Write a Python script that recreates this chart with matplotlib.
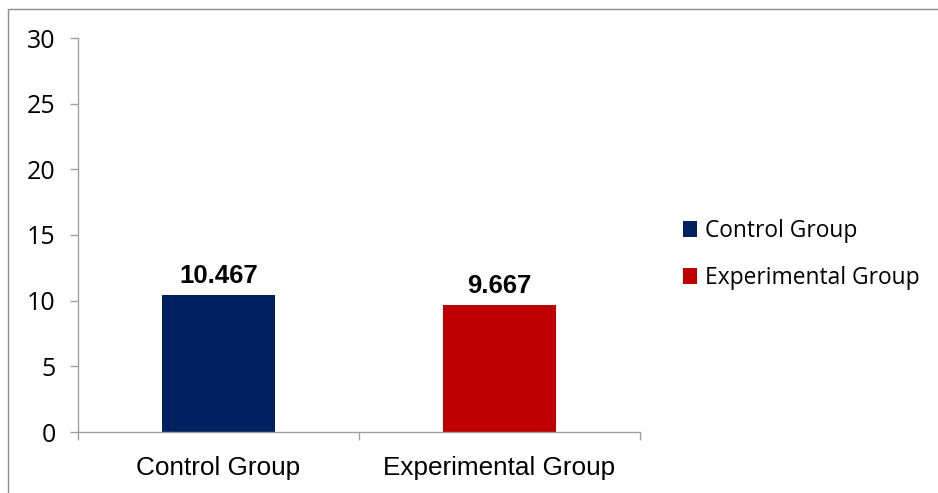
import matplotlib
matplotlib.use("Agg")
import matplotlib.pyplot as plt
from matplotlib.patches import Rectangle, Patch
from matplotlib.ticker import FixedLocator

categories = ["Control Group", "Experimental Group"]
values = [10.467, 9.667]
colors = ["#002060", "#C00000"]
y_ticks = [0, 5, 10, 15, 20, 25, 30]

fig = plt.figure(figsize=(9.38, 4.93), dpi=100)
fig.patch.set_facecolor("white")

# outer chart frame
fig.patches.append(Rectangle((8 / 938, -0.1), 1.2, (493 - 9) / 493 + 0.1,
                             transform=fig.transFigure, fill=False,
                             edgecolor="#8C8C8C", linewidth=1.0))

ax = fig.add_axes([78 / 938, (493 - 432) / 493, (640 - 78) / 938, (432 - 38) / 493])

x = list(range(len(categories)))
bars = ax.bar(x, values, width=0.40, color=colors, zorder=2)

ax.set_xlim(-0.5, len(categories) - 0.5)
ax.set_ylim(0, 30)
ax.set_yticks(y_ticks)
ax.set_yticklabels([str(t) for t in y_ticks], fontfamily="Open Sans", fontsize=18)

ax.set_xticks(x)
ax.set_xticklabels(categories, fontfamily="Liberation Sans", fontsize=18.8)
ax.xaxis.set_minor_locator(FixedLocator([i - 0.5 for i in range(len(categories) + 1)]))
ax.tick_params(axis="x", which="major", length=0, pad=17.5)
ax.tick_params(axis="x", which="minor", length=6, color="#A0A0A0", width=1)
ax.tick_params(axis="y", length=6, color="#A0A0A0", width=1, pad=10)

for side in ["top", "right"]:
    ax.spines[side].set_visible(False)
for side in ["left", "bottom"]:
    ax.spines[side].set_color("#A0A0A0")
    ax.spines[side].set_linewidth(1)

for b, v in zip(bars, values):
    ax.annotate(f"{v:.3f}", (b.get_x() + b.get_width() / 2, v),
                xytext=(0, 5), textcoords="offset points",
                ha="center", va="bottom", fontsize=18.5, fontweight="bold",
                fontfamily="Liberation Sans")

handles = [Patch(facecolor=c, edgecolor="none") for c in colors]
fig.legend(handles, categories, loc="center left",
           bbox_to_anchor=(683 / 938, (493 - 254.5) / 493), frameon=False,
           prop={"family": "Open Sans", "size": 16.4},
           handlelength=0.62, handleheight=0.66, handletextpad=0.35,
           labelspacing=1.02, borderpad=0, borderaxespad=0)

fig.savefig("out.png", dpi=100, facecolor="white")
